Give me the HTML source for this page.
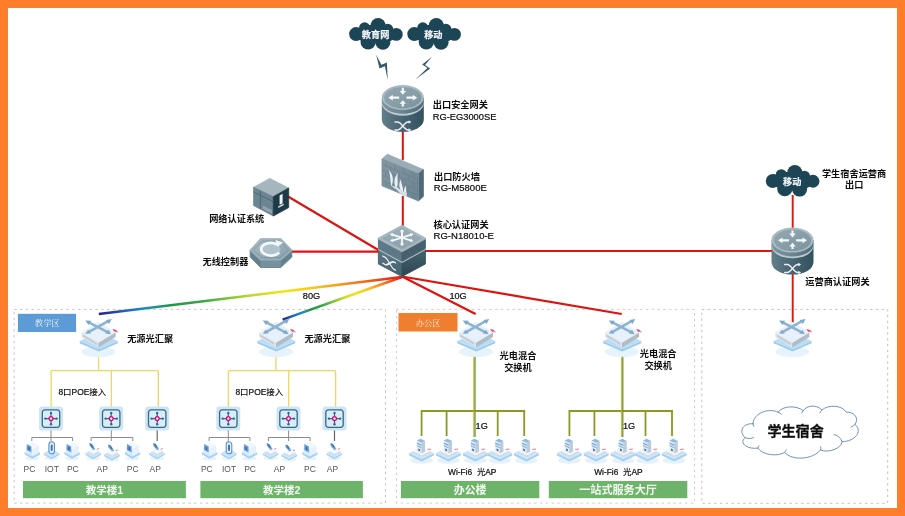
<!DOCTYPE html>
<html lang="zh"><head><meta charset="utf-8"><title>校园网络拓扑</title>
<style>
html,body{margin:0;padding:0;background:#FF7D2B;}
body{width:905px;height:516px;overflow:hidden;font-family:"Liberation Sans","Noto Sans CJK SC",sans-serif;}
svg{display:block;font-family:"Liberation Sans","Noto Sans CJK SC",sans-serif;}
</style></head><body>
<svg width="905" height="516" viewBox="0 0 905 516">
<defs>
<linearGradient id="rb1" gradientUnits="userSpaceOnUse" x1="402" y1="277" x2="98.8" y2="314">
<stop offset="0" stop-color="#E11414"/><stop offset=".06" stop-color="#EC3C1A"/><stop offset=".17" stop-color="#F5871E"/><stop offset=".29" stop-color="#F9C514"/><stop offset=".39" stop-color="#F4E60E"/><stop offset=".5" stop-color="#BDD82A"/><stop offset=".58" stop-color="#78C13A"/><stop offset=".66" stop-color="#34A846"/><stop offset=".76" stop-color="#1E9648"/><stop offset=".83" stop-color="#1A96A4"/><stop offset=".9" stop-color="#1F6AD4"/><stop offset=".96" stop-color="#2A3A9C"/><stop offset="1" stop-color="#27257A"/>
</linearGradient>
<linearGradient id="rb2" gradientUnits="userSpaceOnUse" x1="402" y1="277" x2="282.6" y2="319.6">
<stop offset="0" stop-color="#E11414"/><stop offset=".06" stop-color="#EC3C1A"/><stop offset=".17" stop-color="#F5871E"/><stop offset=".29" stop-color="#F9C514"/><stop offset=".39" stop-color="#F4E60E"/><stop offset=".5" stop-color="#BDD82A"/><stop offset=".58" stop-color="#78C13A"/><stop offset=".66" stop-color="#34A846"/><stop offset=".76" stop-color="#1E9648"/><stop offset=".83" stop-color="#1A96A4"/><stop offset=".9" stop-color="#1F6AD4"/><stop offset=".96" stop-color="#2A3A9C"/><stop offset="1" stop-color="#27257A"/>
</linearGradient>

<linearGradient id="rLow" x1="0" y1="0" x2="1" y2="0"><stop offset="0" stop-color="#637E8B"/><stop offset=".35" stop-color="#506B79"/><stop offset="1" stop-color="#33505E"/></linearGradient>
<linearGradient id="rUp" x1="0" y1="0" x2="1" y2="0"><stop offset="0" stop-color="#7A939F"/><stop offset=".4" stop-color="#6F8995"/><stop offset="1" stop-color="#4E6A78"/></linearGradient>
<linearGradient id="rTop" x1="0" y1="0" x2="1" y2="1"><stop offset="0" stop-color="#93A7B2"/><stop offset="1" stop-color="#7C949F"/></linearGradient>
<g id="router">
<path d="M-21,18 L-21,34.5 A21,12.5 0 0 0 21,34.5 L21,18Z" fill="url(#rLow)"/>
<path d="M-21,16 L-21,18.2 A21,12.5 0 0 0 21,18.2 L21,16Z" fill="#BBC9D1"/>
<path d="M-21,12.5 L-21,16.3 A21,12.5 0 0 0 21,16.3 L21,12.5Z" fill="url(#rUp)"/>
<ellipse cx="0" cy="12.5" rx="21" ry="12.5" fill="#A9B9C2"/>
<ellipse cx="0" cy="12.7" rx="18.6" ry="10.8" fill="url(#rTop)"/>
<g fill="#F4F7F9">
<path d="M-14.5,12.7 L-10,9.8 L-10,11.6 L-3.6,11.6 L-3.6,13.8 L-10,13.8 L-10,15.6Z"/>
<path d="M14.5,12.7 L10,9.8 L10,11.6 L3.6,11.6 L3.6,13.8 L10,13.8 L10,15.6Z"/>
<path d="M-1.1,2.8 L1.1,2.8 L1.1,6 L3.2,6 L0,9.8 L-3.2,6 L-1.1,6Z"/>
<path d="M0,15.2 L3.3,18.8 L1.1,18.8 L1.1,21.4 L-1.1,21.4 L-1.1,18.8 L-3.3,18.8Z"/>
</g>
<g fill="none" stroke="#E9EEF1" stroke-width="1.5" stroke-linecap="round">
<path d="M-7.8,37 h2.6 C-1.4,37 1.4,45 5.2,45 h1"/>
<path d="M-7.8,45 h2.6 C-1.4,45 1.4,37 5.2,37 h1"/>
</g>
<path d="M8.6,37 L5.8,35.2 L5.8,38.8Z M8.6,45 L5.8,43.2 L5.8,46.8Z" fill="#E9EEF1"/>
</g>

<linearGradient id="cTop" x1="0" y1="0" x2="0" y2="1"><stop offset="0" stop-color="#9DB0BA"/><stop offset="1" stop-color="#8BA1AD"/></linearGradient>
<linearGradient id="cL" x1="0" y1="0" x2="0" y2="1"><stop offset="0" stop-color="#5E7987"/><stop offset="1" stop-color="#41606E"/></linearGradient>
<linearGradient id="cR" x1="0" y1="0" x2="0" y2="1"><stop offset="0" stop-color="#48636F"/><stop offset="1" stop-color="#2B4552"/></linearGradient>
<g id="core" stroke-linejoin="round">
<path d="M-23.6,24 L0,36.8 L0,50.8 L-23.6,38.3Z" fill="url(#cL)" stroke="#4A6674" stroke-width="1"/>
<path d="M23.3,24 L0,36.8 L0,50.8 L23.3,38.3Z" fill="url(#cR)" stroke="#34505D" stroke-width="1"/>
<path d="M-23.8,22.6 L0,35.4 L23.5,22.6 L23.5,24.4 L0,37.2 L-23.8,24.4Z" fill="#B5C4CC"/>
<path d="M-23.6,12.8 L0,25.6 L0,35.6 L-23.6,22.8Z" fill="#5D7886" stroke="#5D7886" stroke-width="1"/>
<path d="M23.3,12.8 L0,25.6 L0,35.6 L23.3,22.8Z" fill="#46616E" stroke="#46616E" stroke-width="1"/>
<path d="M0,0 L23.3,12.8 L0,25.6 L-23.6,12.8Z" fill="#A6B7C0" stroke="#A6B7C0" stroke-width="1.8"/>
<path d="M0,2.4 L19,12.8 L0,23.2 L-19.2,12.8Z" fill="url(#cTop)" stroke="#90A5B0" stroke-width=".8"/>
<g stroke="#F5F8FA" stroke-width="1.9" stroke-linecap="round" fill="none">
<path d="M-9,9.2 L8.6,14.6 M-9,14.6 L8.6,9.2 M0,7 L0,17"/>
</g>
<g fill="#F2F6F8">
<circle cx="0" cy="5.4" r="1.7"/><circle cx="0" cy="18.4" r="1.7"/>
<path d="M-12.2,8.2 L-8.4,7.4 L-9.6,11Z M11.6,8.2 L7.8,7.4 L9,11Z M-12.2,15.6 L-8.4,16.4 L-9.6,12.8Z M11.6,15.6 L7.8,16.4 L9,12.8Z"/>
</g>
<g transform="matrix(1 0.54 0 1 -12.4 37.6)" fill="none" stroke="#EEF2F4" stroke-width="1.5" stroke-linecap="round">
<path d="M-6.6,-3.6 h2 C-1,-3.6 1,3.6 4.4,3.6 h1.4"/>
<path d="M-6.6,3.6 h2 C-1,3.6 1,-3.6 4.4,-3.6 h1.4"/>
</g>
</g>

<g id="cloudD"><circle cx="7" cy="16" r="7"/><circle cx="47.2" cy="16.3" r="6.4"/><circle cx="15.5" cy="9.8" r="5.6"/><circle cx="29" cy="7.5" r="7.5"/><circle cx="38.6" cy="11.3" r="5.6"/><circle cx="19" cy="23.8" r="7.6"/><circle cx="33.8" cy="24.2" r="7.5"/><ellipse cx="27" cy="16" rx="21" ry="9.5"/></g>
<linearGradient id="fwF" x1="0" y1="0" x2="1" y2="1"><stop offset="0" stop-color="#8497A3"/><stop offset="1" stop-color="#6B8391"/></linearGradient>
<linearGradient id="hexT" x1="0" y1="0" x2="1" y2="1"><stop offset="0" stop-color="#ABBCC5"/><stop offset="1" stop-color="#86A0AD"/></linearGradient>

<g id="lsw">
<ellipse cx="0" cy="33.6" rx="17" ry="5.4" fill="#E3F1FB" opacity=".85"/>
<path d="M-18.8,22.8 L0.3,31 L19.3,22.8 L19.3,25 L0.3,33.2 L-18.8,25Z" fill="#9CCBEE"/>
<path d="M-18.8,22.8 L0.3,14 L19.3,22.8 L0.3,31Z" fill="#BBDDF4"/>
<path d="M-17,14.1 L0,24.6 L0,29.4 L-17,18.9Z" fill="#DEE5EC"/>
<path d="M-15.4,16.4 L-1.6,24.9 L-1.6,27 L-15.4,18.5Z" fill="#C3CCD6"/>
<path d="M0,24.6 L17.1,14.1 L17.1,18.9 L0,29.4Z" fill="#B2BCC7"/>
<path d="M0,3.5 L17.1,14.1 L0,24.6 L-17,14.1Z" fill="#E8F1F9"/>
<path d="M-9.6,4.2 L9,14 M-9.4,13.6 L9.6,3" stroke="#8DB3D3" stroke-width="2.6" fill="none"/>
<path d="M-13.2,2.2 L-7.2,2.6 L-10,6.8Z M13.2,0.8 L7.4,1.8 L10.6,5.8Z M-13.2,15.6 L-7.4,15.4 L-10.4,11.6Z M12.6,16 L6.8,15.2 L10,11.6Z" fill="#7FA8CB"/>
<path d="M14.6,11.4 l3.4,0.8 l-1.4,1.4z M17.2,13.2 l2.4,0.6" stroke="#E04A6A" stroke-width=".8" fill="#E04A6A"/>
</g>
<g id="poe">
<rect x="-12" y="-12" width="24" height="24" rx="3.4" fill="#CFE5F6"/>
<rect x="-8.7" y="-8.7" width="17.4" height="17.4" rx="2.6" fill="#D9ECF9" stroke="#346A80" stroke-width="1.3"/>
<path d="M0,-5.6 V5.6 M-5.6,0 H5.6" stroke="#2E6C80" stroke-width="1.2"/>
<g fill="#2E6C80"><circle cx="0" cy="-5.6" r="1.2"/><circle cx="0" cy="5.6" r="1.2"/><circle cx="-5.6" cy="0" r="1.2"/><circle cx="5.6" cy="0" r="1.2"/></g>
<circle cx="0" cy="0" r="1.9" fill="#fff" stroke="#E2007A" stroke-width="1.3"/>
</g>
<g id="dbase">
<ellipse cx="0" cy="16.4" rx="7" ry="2.4" fill="#E2F0FB" opacity=".8"/>
<path d="M-7.8,11.6 L0,16 L7.8,11.6 L7.8,13.2 L0,17.6 L-7.8,13.2Z" fill="#A3D0F0"/>
<path d="M-7.8,11.6 L0,7.2 L7.8,11.6 L0,16Z" fill="#C6E3F7"/>
</g>
<g id="pc">
<ellipse cx="0" cy="16.8" rx="7" ry="2.2" fill="#E2F0FB" opacity=".8"/>
<path d="M-7.6,10.6 L0,15 L7.8,10.8 L7.8,12.8 L0,17.2 L-7.6,12.6Z" fill="#A3D0F0"/>
<path d="M-7.6,10.6 L0,6.4 L7.8,10.8 L0,15Z" fill="#C6E3F7"/>
<path d="M-6,4.2 L0.6,0.4 L6.6,4 L6.6,10.4 L0.2,14 L-6,10.6Z" fill="#F1F7FC"/>
<path d="M-6,4.2 L0.2,7.6 L0.2,14 L-6,10.6Z" fill="#D9E9F6"/>
<path d="M0.2,7.6 L6.6,4 L6.6,10.4 L0.2,14Z" fill="#E6F1FA"/>
<path d="M-5.4,2.4 L-0.8,4.9 L-0.8,11 L-5.4,8.5Z" fill="#6A9FD6"/>
<path d="M-3.9,5 L-2.3,5.9 L-2.3,9 L-3.9,8.1Z" fill="#3468B0"/>
</g>
<g id="iot">
<use href="#dbase"/>
<rect x="-2.7" y="0.2" width="5.6" height="12" rx="2.8" fill="#E3EFF9" stroke="#5A90CA" stroke-width="1.1"/>
<rect x="-0.9" y="2.8" width="2" height="6.6" rx="1" fill="#3E78BE"/>
</g>
<g id="ap">
<use href="#dbase"/>
<path d="M-5.4,9.4 L0.4,6.4 L6,9.2 L6,11.2 L0.2,14.4 L-5.4,11.4Z" fill="#F2F7FB"/>
<path d="M-5.4,9.4 L0.2,12.4 L6,9.2 L6,11.2 L0.2,14.4 L-5.4,11.4Z" fill="#CFDDE9"/>
<path d="M-4,1.4 L-1.2,2.4 L2.2,7.4 L0,8.6 L-3.6,4.2Z" fill="#79A9DA"/>
<path d="M-3.6,1.6 L-1.6,2.4 L0.6,5.6 L-1.2,6.2Z" fill="#3F73B8"/>
<path d="M3.6,7.6 l2.2,-.6" stroke="#E0607A" stroke-width=".8"/>
</g>
<g id="wap">
<ellipse cx="0" cy="22.4" rx="11.4" ry="3.4" fill="#E0EFFA" opacity=".85"/>
<path d="M-12.4,15 L0,21 L12.4,15 L12.4,17.6 L0,23.6 L-12.4,17.6Z" fill="#A6D1F0"/>
<path d="M-12.4,15 L0,9 L12.4,15 L0,21Z" fill="#C9E4F7"/>
<path d="M-8.6,13 L0.4,8.8 L9,12.8 L9,15.2 L0.4,19.6 L-8.6,15.4Z" fill="#F4F8FC"/>
<path d="M-8.6,13 L0.4,17.2 L9,12.8 L9,15.2 L0.4,19.6 L-8.6,15.4Z" fill="#D0DCE7"/>
<path d="M-4.6,2.6 L0,4.8 L0,15.6 L-4.6,13.4Z" fill="#DFE9F2"/>
<path d="M0,4.8 L3.6,3 L3.6,13.8 L0,15.6Z" fill="#BDCCDA"/>
<path d="M-4.6,2.6 L-1,0.8 L3.6,3 L0,4.8Z" fill="#8DB9E2"/>
<path d="M-4.6,4.4 L0,6.6 L0,8 L-4.6,5.8Z M-4.6,7 L0,9.2 L0,10.2 L-4.6,8Z" fill="#78A9DA"/>
<path d="M-3.2,10.6 L-1.4,11.4 L-1.4,13.2 L-3.2,12.4Z" fill="#44668F"/>
<path d="M6,11.4 l3.6,-.3" stroke="#DE6A86" stroke-width=".9"/>
</g>
<g id="cloudO"><path d="M125,165 C60,160 20,215 70,262 C30,290 70,345 160,335 C190,385 300,395 345,365 C400,425 540,415 595,348 C650,370 740,340 745,290 C830,290 895,220 835,170 C870,120 820,80 775,85 C745,35 650,30 605,70 C570,30 500,35 475,75 C430,35 330,40 300,85 C240,55 130,85 125,165Z"/><path d="M70,262 C90,270 110,270 130,262 M160,335 C160,328 162,322 166,318 M345,365 C350,360 354,354 356,348 M595,348 C598,340 598,332 596,325 M745,290 C740,268 720,248 690,240 M835,170 C828,178 818,184 808,188 M605,70 C598,76 594,82 591,90 M475,75 C470,80 467,85 465,90 M300,85 C310,88 318,94 324,100 M125,165 C126,172 128,178 131,183" fill="none"/></g>

<filter id="soft" x="0" y="0" width="905" height="516" filterUnits="userSpaceOnUse"><feGaussianBlur stdDeviation="0.42"/></filter>
</defs>
<rect x="0" y="0" width="905" height="516" fill="#FF7D2B"/>
<rect x="8" y="8" width="889" height="500" fill="#fff"/>
<g filter="url(#soft)">
<rect x="14.2" y="309.4" width="371.3" height="193.7" fill="none" stroke="#B2B0BA" stroke-width=".75" stroke-dasharray="2.4 3.4"/>
<rect x="396.5" y="309.4" width="298" height="193.7" fill="none" stroke="#DFAEC0" stroke-width=".75" stroke-dasharray="2.4 3.4"/>
<rect x="701.8" y="309.4" width="185.9" height="193.9" fill="none" stroke="#A9ABB0" stroke-width=".75" stroke-dasharray="2.4 3.4"/>
<rect x="17.9" y="313.8" width="58.2" height="18.2" fill="#5B9BD5"/>
<rect x="398.5" y="313" width="59" height="18.5" fill="#EF7E2F"/>
<text x="34.85" y="326.40" font-size="8.3" fill="#EEF4FB" font-family="'Liberation Serif','Noto Serif CJK SC',serif">教学区</text>
<text x="415.75" y="325.70" font-size="8.3" fill="#FDEEE2" font-family="'Liberation Serif','Noto Serif CJK SC',serif">办公区</text>
<rect x="23.0" y="481" width="162.9" height="17.2" fill="#6EB36B"/>
<text x="85.78" y="493.74" font-size="10.5" font-weight="bold" fill="#F3FAF1">教学楼1</text>
<rect x="200.4" y="481" width="162.5" height="17.2" fill="#6EB36B"/>
<text x="262.98" y="493.74" font-size="10.5" font-weight="bold" fill="#F3FAF1">教学楼2</text>
<rect x="400.9" y="481" width="138.4" height="17.2" fill="#6EB36B"/>
<text x="453.75" y="493.90" font-size="10.9" font-weight="bold" fill="#F3FAF1">办公楼</text>
<rect x="548.8" y="481" width="138.5" height="17.2" fill="#6EB36B"/>
<text x="579.20" y="493.97" font-size="11.1" font-weight="bold" fill="#F3FAF1">一站式服务大厅</text>
<line x1="402.8" y1="130.0" x2="402.8" y2="160.0" stroke="#DB120E" stroke-width="2.00" stroke-linecap="butt"/>
<line x1="402.8" y1="196.0" x2="402.8" y2="227.0" stroke="#DB120E" stroke-width="2.00" stroke-linecap="butt"/>
<line x1="288.0" y1="196.5" x2="380.0" y2="251.0" stroke="#DB120E" stroke-width="2.10" stroke-linecap="butt"/>
<line x1="292.0" y1="251.6" x2="380.0" y2="251.6" stroke="#DB120E" stroke-width="2.10" stroke-linecap="butt"/>
<line x1="424.0" y1="251.0" x2="772.0" y2="251.0" stroke="#DB120E" stroke-width="2.10" stroke-linecap="butt"/>
<line x1="792.7" y1="195.0" x2="792.7" y2="229.0" stroke="#DB120E" stroke-width="1.90" stroke-linecap="butt"/>
<line x1="792.7" y1="273.0" x2="792.7" y2="324.0" stroke="#DB120E" stroke-width="1.90" stroke-linecap="butt"/>
<line x1="402.0" y1="276.5" x2="475.6" y2="314.0" stroke="#DB120E" stroke-width="2.10" stroke-linecap="butt"/>
<line x1="402.0" y1="276.5" x2="621.7" y2="314.0" stroke="#DB120E" stroke-width="2.10" stroke-linecap="butt"/>
<line x1="402.0" y1="277.0" x2="98.8" y2="314.0" stroke="url(#rb1)" stroke-width="2.40" stroke-linecap="butt"/>
<line x1="402.0" y1="277.0" x2="282.6" y2="319.6" stroke="url(#rb2)" stroke-width="2.40" stroke-linecap="butt"/>
<path d="M98.6,356 V370.7 M51.1,370.7 H158.3 M51.1,370.7 V407 M111.4,370.7 V407 M158.3,370.7 V407" fill="none" stroke="#F0D564" stroke-width="1.3"/>
<path d="M51.0,430 V441 M31.8,441 V437.5 H72.6 V441" fill="none" stroke="#8C8C8C" stroke-width="1"/>
<path d="M111.3,430 V441 M91.1,441 V437.5 H132.8 V441" fill="none" stroke="#8C8C8C" stroke-width="1"/>
<path d="M157.2,430 V441" fill="none" stroke="#666" stroke-width="1.2"/>
<path d="M275.9,356 V370.7 M228.4,370.7 H335.6 M228.4,370.7 V407 M288.7,370.7 V407 M335.6,370.7 V407" fill="none" stroke="#F0D564" stroke-width="1.3"/>
<path d="M228.3,430 V441 M209.1,441 V437.5 H249.9 V441" fill="none" stroke="#8C8C8C" stroke-width="1"/>
<path d="M288.6,430 V441 M268.4,441 V437.5 H310.1 V441" fill="none" stroke="#8C8C8C" stroke-width="1"/>
<path d="M334.5,430 V441" fill="none" stroke="#666" stroke-width="1.2"/>
<path d="M420.7,411 H525.2 M421.6,411 V436 M446.6,411 V436 M497.7,411 V436 M524.2,411 V436" fill="none" stroke="#899B20" stroke-width="1.8"/>
<line x1="473.9" y1="356" x2="473.9" y2="437" stroke="#E9A21F" stroke-width="1.2"/>
<line x1="475.0" y1="356" x2="475.0" y2="437" stroke="#5F9C35" stroke-width="1.3"/>
<path d="M568.5,411 H673.0 M569.4,411 V436 M594.4,411 V436 M645.5,411 V436 M672.0,411 V436" fill="none" stroke="#899B20" stroke-width="1.8"/>
<line x1="621.7" y1="356" x2="621.7" y2="437" stroke="#E9A21F" stroke-width="1.2"/>
<line x1="622.8" y1="356" x2="622.8" y2="437" stroke="#5F9C35" stroke-width="1.3"/>
<use href="#cloudD" transform="translate(349.1 18.1) scale(1.000 1.000)" fill="#1F4556"/>
<use href="#cloudD" transform="translate(407.3 18.1) scale(1.000 1.000)" fill="#1F4556"/>
<use href="#cloudD" transform="translate(765.8 165.0) scale(1.000 0.997)" fill="#1F4556"/>
<text x="361.80" y="37.94" font-size="9.2" font-weight="bold" fill="#F1F5F7" stroke="#F1F5F7" stroke-width=".2">教育网</text>
<text x="424.20" y="37.94" font-size="9.2" font-weight="bold" fill="#F1F5F7" stroke="#F1F5F7" stroke-width=".2">移动</text>
<text x="783.00" y="184.54" font-size="9.2" font-weight="bold" fill="#F1F5F7" stroke="#F1F5F7" stroke-width=".2">移动</text>
<path d="M376.2,54.8 L381.4,64.8 L386.9,62.4 L387.7,80.2 L384.9,66.2 L379.5,68.4Z" fill="#3A596B"/>
<path d="M432.2,56.4 L422.2,64.6 L427.4,68 L415.4,79.4 L430.2,68.5 L425,64.9Z" fill="#3A596B"/>
<use href="#router" transform="translate(402.8 85)"/>
<use href="#router" transform="translate(792.5 227.6)"/>
<use href="#core" transform="translate(402 225.7)"/>
<g><path d="M382,159 L387.4,154.2 L423.4,169.6 L418.4,173.8Z" fill="#9AACB6" stroke="#9AACB6" stroke-width=".8" stroke-linejoin="round"/><path d="M418.4,173.8 L423.4,169.6 L423.4,196.4 L418.4,201Z" fill="#506A78" stroke="#506A78" stroke-width=".8" stroke-linejoin="round"/><path d="M382,159 L418.4,173.8 L418.4,201 L382,185.8Z" fill="url(#fwF)" stroke="#7B909C" stroke-width=".8" stroke-linejoin="round"/><path d="M382,164.4 L418.4,179.2 M382,169.8 L418.4,184.6 M382,175.2 L418.4,190.0 M382,180.6 L418.4,195.4 M386.0,160.6 v5.2 M395.0,164.3 v5.2 M404.0,167.9 v5.2 M413.0,171.6 v5.2 M390.5,167.9 v5.2 M399.5,171.5 v5.2 M408.5,175.2 v5.2 M417.5,178.8 v5.2 M386.0,171.4 v5.2 M395.0,175.1 v5.2 M404.0,178.7 v5.2 M413.0,182.4 v5.2 M390.5,178.7 v5.2 M399.5,182.3 v5.2 M408.5,186.0 v5.2 M417.5,189.6 v5.2 M386.0,182.2 v5.2 M395.0,185.9 v5.2 M404.0,189.5 v5.2 M413.0,193.2 v5.2" stroke="#647D8A" stroke-width=".6" fill="none" opacity=".8"/><path d="M388.6,170 C393.6,174.4 393.8,181 391.4,186.4 C389.8,181 391,175.6 388.6,170Z" fill="#E9F0F3"/><path d="M397.8,173 C393.4,178.4 393.8,183.6 396.2,189 C399.2,184 396.6,178.8 397.8,173Z" fill="#E9F0F3"/><path d="M400.8,179.6 C397.8,184.6 399.6,189.2 402.6,194 C404.4,188.8 401.2,185 400.8,179.6Z" fill="#E9F0F3"/><path d="M406,185.6 C403,189.4 403.6,192.8 405.4,196.4 C407.4,192.8 405.6,189.6 406,185.6Z" fill="#E9F0F3"/><path d="M390.6,184.6 C393,188.6 396.4,188.6 398.4,191.6 C400.4,194.6 403.4,195.2 407,197 L406.6,192.6 C403.4,192.2 401,190 398.6,188.2 C396,186.4 393,187 390.6,184.6Z" fill="#D3E0E6"/></g>
<g><path d="M269.8,178.4 L288.7,188 L273.3,196.7 L253.6,187.3Z" fill="#A6B6BF" stroke="#A6B6BF" stroke-width=".8" stroke-linejoin="round"/><path d="M253.6,187.3 L273.3,196.7 L273.3,216 L253.6,205.6Z" fill="#6C8593" stroke="#6C8593" stroke-width=".8" stroke-linejoin="round"/><path d="M273.3,196.7 L288.7,188 L288.7,207.6 L273.3,216Z" fill="#1F3B49" stroke="#1F3B49" stroke-width=".8" stroke-linejoin="round"/><path d="M260.4,190.6 V209 M253.6,192 L273.3,201.6" stroke="#4C6775" stroke-width=".9" fill="none"/><path d="M262.5,205.5 L272,210 L272,213.4 L262.5,208.8Z" fill="#8EA3AE"/><path d="M279.6,195.4 L282.6,193.8 L282.6,203.2 L279.6,204.8Z" fill="#F2F5F7"/><path d="M278.2,206.4 L283.6,203.6 L283.6,205.2 L278.2,208Z" fill="#DDE4E8"/></g>
<g><path d="M250.2,250.2 L260.6,259.8 L280.8,259.8 L291.8,250.2 L291.8,257 L280.8,267.4 L260.6,267.4 L250.2,257Z" fill="#64818F" stroke="#64818F" stroke-width="1" stroke-linejoin="round"/><path d="M260.6,259.8 L280.8,259.8 L280.8,267.4 L260.6,267.4Z" fill="#76919E"/><path d="M260.6,238.8 L280.8,238.8 L291.8,250.2 L280.8,259.8 L260.6,259.8 L250.2,250.2Z" fill="url(#hexT)" stroke="#9DB0BA" stroke-width="1.2" stroke-linejoin="round"/><path d="M262,241 L279.6,241 L288.6,250.2 L279.6,257.6 L262,257.6 L253.4,250.2Z" fill="none" stroke="#7B95A2" stroke-width=".8"/><ellipse cx="270.8" cy="249.2" rx="9.6" ry="6.4" fill="#AFC3CD" stroke="#F4F7F9" stroke-width="2.7" stroke-dasharray="41 10" stroke-dashoffset="-3.5"/><path d="M275.4,240 L283,242.6 L277.6,247Z" fill="#F4F7F9"/></g>
<use href="#lsw" transform="translate(98.5 318.2)"/>
<use href="#lsw" transform="translate(276.0 318.2)"/>
<use href="#lsw" transform="translate(476.0 318.2)"/>
<use href="#lsw" transform="translate(622.0 318.2)"/>
<use href="#lsw" transform="translate(792.3 318.2)"/>
<use href="#poe" transform="translate(51.0 418.6)"/>
<use href="#poe" transform="translate(111.2 418.6)"/>
<use href="#poe" transform="translate(157.2 418.6)"/>
<use href="#pc" transform="translate(32.2 441.6)"/>
<use href="#iot" transform="translate(51.6 441.6)"/>
<use href="#pc" transform="translate(72.0 441.6)"/>
<use href="#ap" transform="translate(93.2 441.6)"/>
<use href="#ap" transform="translate(112.0 443.0)"/>
<use href="#pc" transform="translate(132.4 441.6)"/>
<use href="#ap" transform="translate(157.0 441.6)"/>
<text x="29.5" y="471.8" font-size="8.5" text-anchor="middle" fill="#555">PC</text>
<text x="51.8" y="471.8" font-size="8.5" text-anchor="middle" fill="#555">IOT</text>
<text x="72.8" y="471.8" font-size="8.5" text-anchor="middle" fill="#555">PC</text>
<text x="102.2" y="471.8" font-size="8.5" text-anchor="middle" fill="#555">AP</text>
<text x="132.7" y="471.8" font-size="8.5" text-anchor="middle" fill="#555">PC</text>
<text x="155.2" y="471.8" font-size="8.5" text-anchor="middle" fill="#555">AP</text>
<use href="#poe" transform="translate(228.3 418.6)"/>
<use href="#poe" transform="translate(288.5 418.6)"/>
<use href="#poe" transform="translate(334.5 418.6)"/>
<use href="#pc" transform="translate(209.5 441.6)"/>
<use href="#iot" transform="translate(228.9 441.6)"/>
<use href="#pc" transform="translate(249.3 441.6)"/>
<use href="#ap" transform="translate(270.5 441.6)"/>
<use href="#ap" transform="translate(289.3 443.0)"/>
<use href="#pc" transform="translate(309.7 441.6)"/>
<use href="#ap" transform="translate(334.3 441.6)"/>
<text x="206.8" y="471.8" font-size="8.5" text-anchor="middle" fill="#555">PC</text>
<text x="229.1" y="471.8" font-size="8.5" text-anchor="middle" fill="#555">IOT</text>
<text x="250.1" y="471.8" font-size="8.5" text-anchor="middle" fill="#555">PC</text>
<text x="279.5" y="471.8" font-size="8.5" text-anchor="middle" fill="#555">AP</text>
<text x="310.0" y="471.8" font-size="8.5" text-anchor="middle" fill="#555">PC</text>
<text x="332.5" y="471.8" font-size="8.5" text-anchor="middle" fill="#555">AP</text>
<use href="#wap" transform="translate(421.5 438)"/>
<use href="#wap" transform="translate(448.4 438)"/>
<use href="#wap" transform="translate(475.4 438)"/>
<use href="#wap" transform="translate(499.8 438)"/>
<use href="#wap" transform="translate(526.4 438)"/>
<use href="#wap" transform="translate(569.3 438)"/>
<use href="#wap" transform="translate(596.2 438)"/>
<use href="#wap" transform="translate(623.2 438)"/>
<use href="#wap" transform="translate(647.6 438)"/>
<use href="#wap" transform="translate(674.2 438)"/>
<use href="#cloudO" transform="translate(735 400) scale(.14365)" fill="#fff" stroke="#6C8CB2" stroke-width="6.6" stroke-linecap="round"/>
<text x="432.80" y="108.14" font-size="9.2" font-weight="bold" fill="#111">出口安全网关</text>
<text x="432.8" y="119.5" font-size="9.30" fill="#0A0A0A" stroke="#0A0A0A" stroke-width=".18">RG-EG3000SE</text>
<text x="434.00" y="180.34" font-size="9.2" font-weight="bold" fill="#111">出口防火墙</text>
<text x="433.8" y="191.3" font-size="9.55" fill="#0A0A0A" stroke="#0A0A0A" stroke-width=".18">RG-M5800E</text>
<text x="433.50" y="228.24" font-size="9.2" font-weight="bold" fill="#111">核心认证网关</text>
<text x="433.5" y="238.9" font-size="9.55" fill="#0A0A0A" stroke="#0A0A0A" stroke-width=".18">RG-N18010-E</text>
<text x="209.20" y="221.94" font-size="9.2" font-weight="bold" fill="#111">网络认证系统</text>
<text x="202.50" y="264.64" font-size="9.2" font-weight="bold" fill="#111">无线控制器</text>
<text x="821.90" y="176.74" font-size="9.2" font-weight="bold" fill="#111">学生宿舍运营商</text>
<text x="845.10" y="187.84" font-size="9.2" font-weight="bold" fill="#111">出口</text>
<text x="805.30" y="284.84" font-size="9.2" font-weight="bold" fill="#111">运营商认证网关</text>
<text x="127.20" y="341.74" font-size="9.2" font-weight="bold" fill="#111">无源光汇聚</text>
<text x="304.40" y="341.74" font-size="9.2" font-weight="bold" fill="#111">无源光汇聚</text>
<text x="499.60" y="359.34" font-size="9.2" font-weight="bold" fill="#111">光电混合</text>
<text x="504.20" y="370.84" font-size="9.2" font-weight="bold" fill="#111">交换机</text>
<text x="639.80" y="357.14" font-size="9.2" font-weight="bold" fill="#111">光电混合</text>
<text x="644.40" y="368.54" font-size="9.2" font-weight="bold" fill="#111">交换机</text>
<text x="767.40" y="435.73" font-size="14.1" font-weight="bold" fill="#111" stroke="#111" stroke-width=".3">学生宿舍</text>
<text x="58.40" y="394.65" font-size="8.45" font-weight="500" fill="#111"><tspan stroke="#111" stroke-width=".22">8</tspan>口<tspan stroke="#111" stroke-width=".22">POE</tspan>接入</text>
<text x="235.40" y="394.65" font-size="8.45" font-weight="500" fill="#111"><tspan stroke="#111" stroke-width=".22">8</tspan>口<tspan stroke="#111" stroke-width=".22">POE</tspan>接入</text>
<text x="302.8" y="299.2" font-size="9.20" fill="#0A0A0A" stroke="#0A0A0A" stroke-width=".18">80G</text>
<text x="449.4" y="299.4" font-size="9.20" fill="#0A0A0A" stroke="#0A0A0A" stroke-width=".18">10G</text>
<text x="475.6" y="429.0" font-size="9.20" fill="#0A0A0A" stroke="#0A0A0A" stroke-width=".18">1G</text>
<text x="623.0" y="429.0" font-size="9.20" fill="#0A0A0A" stroke="#0A0A0A" stroke-width=".18">1G</text>
<text x="448.0" y="475.4" font-size="8.35" fill="#0A0A0A" stroke="#0A0A0A" stroke-width=".18">Wi-Fi6</text>
<text x="476.90" y="475.40" font-size="8.35" font-weight="500" fill="#0A0A0A">光<tspan stroke="#0A0A0A" stroke-width=".22">AP</tspan></text>
<text x="594.2" y="475.4" font-size="8.35" fill="#0A0A0A" stroke="#0A0A0A" stroke-width=".18">Wi-Fi6</text>
<text x="623.10" y="475.40" font-size="8.35" font-weight="500" fill="#0A0A0A">光<tspan stroke="#0A0A0A" stroke-width=".22">AP</tspan></text>
</g>
</svg>
</body></html>
